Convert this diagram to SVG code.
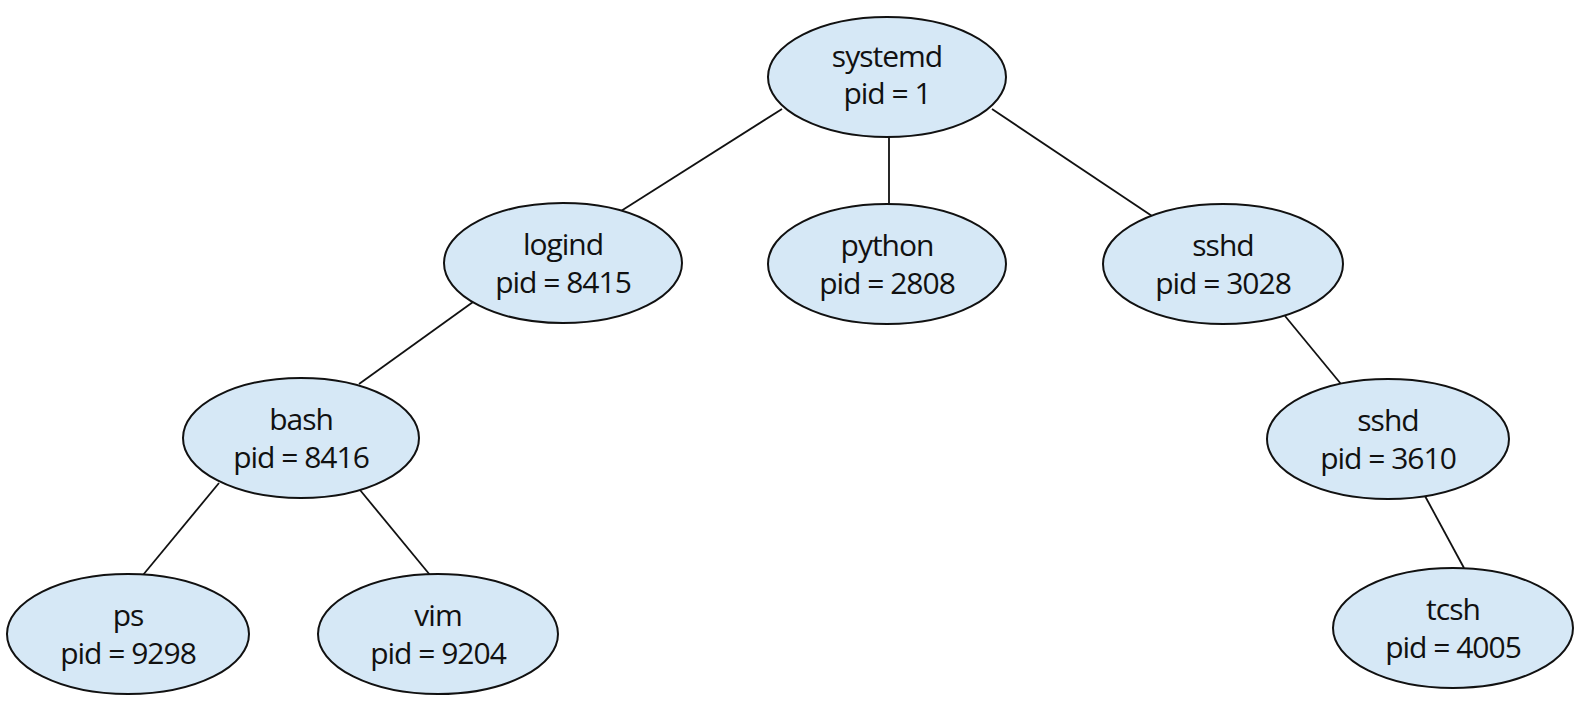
<svg xmlns="http://www.w3.org/2000/svg" width="1596" height="702" viewBox="0 0 1596 702">
<style>
.n ellipse{fill:#d6e8f6;stroke:#111111;stroke-width:2}
.n text{font-family:"Open Sans","Noto Sans",sans-serif;font-size:30px;fill:#111111;text-anchor:middle;letter-spacing:-1px}
#edges line{stroke:#111111;stroke-width:1.8}
</style>
<rect width="1596" height="702" fill="#ffffff"/>
<g id="edges">
<line x1="782" y1="109" x2="621" y2="211"/>
<line x1="889" y1="137" x2="889" y2="204"/>
<line x1="992" y1="109" x2="1152" y2="216"/>
<line x1="473" y1="302" x2="359" y2="384"/>
<line x1="219" y1="483" x2="143" y2="575"/>
<line x1="360" y1="490" x2="430" y2="575"/>
<line x1="1285" y1="316" x2="1341" y2="384"/>
<line x1="1425" y1="496" x2="1464" y2="568"/>
</g>
<g id="systemd" class="n"><ellipse cx="887" cy="77" rx="119" ry="60"/><text x="887" y="67">systemd</text><text x="887" y="104">pid = 1</text></g>
<g id="logind" class="n"><ellipse cx="563" cy="263" rx="119" ry="60"/><text x="563" y="255">logind</text><text x="563" y="293">pid = 8415</text></g>
<g id="python" class="n"><ellipse cx="887" cy="264" rx="119" ry="60"/><text x="887" y="256">python</text><text x="887" y="294">pid = 2808</text></g>
<g id="sshd3028" class="n"><ellipse cx="1223" cy="264" rx="120" ry="60"/><text x="1223" y="256">sshd</text><text x="1223" y="294">pid = 3028</text></g>
<g id="bash" class="n"><ellipse cx="301" cy="438" rx="118" ry="60"/><text x="301" y="430">bash</text><text x="301" y="468">pid = 8416</text></g>
<g id="sshd3610" class="n"><ellipse cx="1388" cy="439" rx="121" ry="60"/><text x="1388" y="431">sshd</text><text x="1388" y="469">pid = 3610</text></g>
<g id="ps" class="n"><ellipse cx="128" cy="634" rx="121" ry="60"/><text x="128" y="626">ps</text><text x="128" y="664">pid = 9298</text></g>
<g id="vim" class="n"><ellipse cx="438" cy="634" rx="120" ry="60"/><text x="438" y="626">vim</text><text x="438" y="664">pid = 9204</text></g>
<g id="tcsh" class="n"><ellipse cx="1453" cy="628" rx="120" ry="60"/><text x="1453" y="620">tcsh</text><text x="1453" y="658">pid = 4005</text></g>
</svg>
